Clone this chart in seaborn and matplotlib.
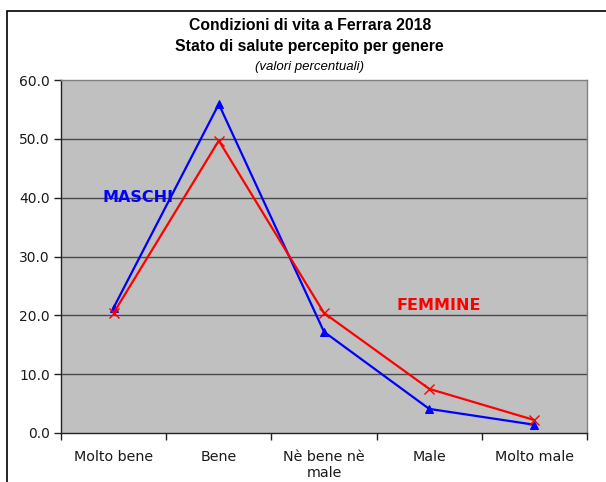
import matplotlib
matplotlib.use("Agg")
import matplotlib.pyplot as plt
import seaborn as sns
import pandas as pd
from matplotlib.patches import Rectangle

# --- DATA ---
categorie = ["Molto bene", "Bene", "Nè bene nè\nmale", "Male", "Molto male"]
maschi = [21.3, 55.9, 17.2, 4.1, 1.4]
femmine = [20.4, 49.7, 20.4, 7.5, 2.2]
y_ticks = [0, 10, 20, 30, 40, 50, 60]

df = pd.DataFrame({
    "categoria": categorie * 2,
    "valore": maschi + femmine,
    "genere": ["MASCHI"] * len(categorie) + ["FEMMINE"] * len(categorie),
})
colori = {"MASCHI": "#0000FF", "FEMMINE": "#FF0000"}

sns.set_style("white")
plt.rcParams["font.family"] = ["DejaVu Sans"]
plt.rcParams["text.color"] = "black"
plt.rcParams["xtick.color"] = "#1a1a1a"
plt.rcParams["ytick.color"] = "#1a1a1a"

fig = plt.figure(figsize=(6.06, 4.82), dpi=100)
ax = fig.add_axes([61 / 606, 1 - 433 / 482, 526 / 606, 353 / 482])
ax.set_facecolor("#C0C0C0")

# gridlines under the series
for y in y_ticks[1:-1]:
    ax.axhline(y, color="#4a4a4a", lw=1.0, zorder=1)

sns.lineplot(data=df, x="categoria", y="valore", hue="genere", style="genere",
             palette=colori, markers={"MASCHI": "^", "FEMMINE": "X"}, dashes=False,
             markersize=6, linewidth=1.6, legend=False, ax=ax, zorder=3)

# marker edges in the line colour, thin x for femmine
for line in ax.lines:
    c = line.get_color()
    line.set_markeredgecolor(c)
    line.set_markerfacecolor(c)
    if line.get_marker() == "X":
        line.set_marker("x")
        line.set_markeredgewidth(1.0)
        line.set_markersize(7)

ax.set_xlim(-0.5, 4.5)
ax.set_ylim(0, 60)
ax.set_yticks(y_ticks)
ax.set_yticklabels([f"{v:.1f}" for v in y_ticks], fontsize=10)
ax.set_xticks(range(len(categorie)))
ax.set_xticklabels(categorie, fontsize=10.3, linespacing=1.2)
ax.tick_params(axis="x", length=0, pad=12)
ax.tick_params(axis="y", length=5, width=1, color="#222222", pad=3, left=True)
ax.set_xticks([i - 0.5 for i in range(len(categorie) + 1)], minor=True)
ax.tick_params(axis="x", which="minor", length=5, width=1, color="#222222", bottom=True)
ax.set_xlabel("")
ax.set_ylabel("")

for side in ["top", "right"]:
    ax.spines[side].set_color("#808080")
    ax.spines[side].set_linewidth(1.0)
for side in ["left", "bottom"]:
    ax.spines[side].set_color("#222222")
    ax.spines[side].set_linewidth(1.0)

ax.text(-0.11, 40, "MASCHI", color="#0000FF", fontsize=11.5, fontweight="bold",
        ha="left", va="center", zorder=4)
ax.text(2.69, 21.6, "FEMMINE", color="#FF0000", fontsize=11.5, fontweight="bold",
        ha="left", va="center", zorder=4)

# titles
fig.text(0.511, 1 - 26 / 482, "Condizioni di vita a Ferrara 2018", ha="center", va="center",
         fontsize=11.3, fontweight="bold", family=["Liberation Sans"])
fig.text(0.511, 1 - 47 / 482, "Stato di salute percepito per genere", ha="center", va="center",
         fontsize=11.3, fontweight="bold", family=["Liberation Sans"])
fig.text(0.511, 1 - 67 / 482, "(valori percentuali)", ha="center", va="center",
         fontsize=9.5, style="italic", family=["Liberation Sans"])

# outer chart border
fig.add_artist(Rectangle((7 / 606, -0.2), 1.2, 1.2 - 11 / 482, transform=fig.transFigure,
                         fill=False, edgecolor="black", lw=1.2))

fig.savefig("out.png", dpi=100)
